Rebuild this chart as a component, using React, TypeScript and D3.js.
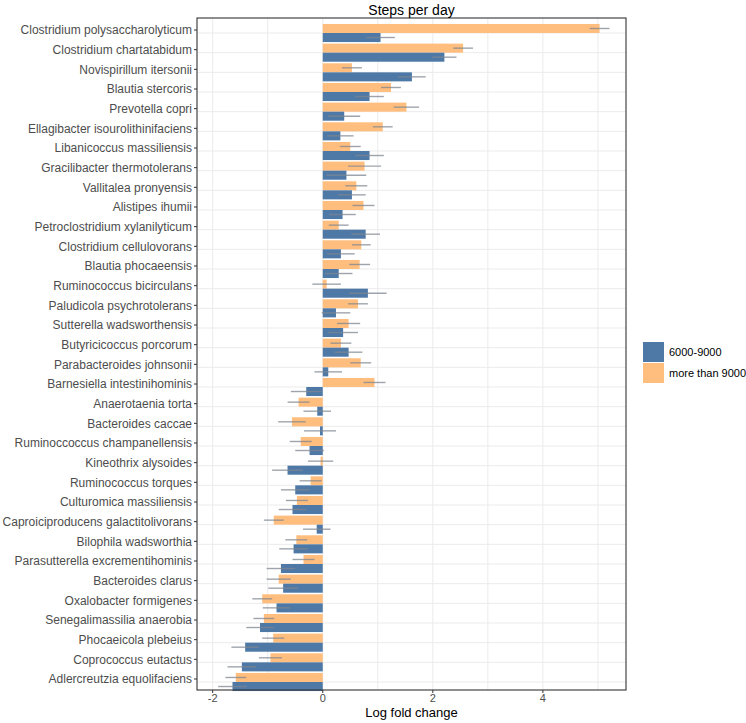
import React, { useEffect, useRef } from 'react'
import * as d3 from 'd3'

// categories, top to bottom
const taxa = [
  'Clostridium polysaccharolyticum', 'Clostridium chartatabidum', 'Novispirillum itersonii',
  'Blautia stercoris', 'Prevotella copri', 'Ellagibacter isourolithinifaciens',
  'Libanicoccus massiliensis', 'Gracilibacter thermotolerans', 'Vallitalea pronyensis',
  'Alistipes ihumii', 'Petroclostridium xylanilyticum', 'Clostridium cellulovorans',
  'Blautia phocaeensis', 'Ruminococcus bicirculans', 'Paludicola psychrotolerans',
  'Sutterella wadsworthensis', 'Butyricicoccus porcorum', 'Parabacteroides johnsonii',
  'Barnesiella intestinihominis', 'Anaerotaenia torta', 'Bacteroides caccae',
  'Ruminoccoccus champanellensis', 'Kineothrix alysoides', 'Ruminococcus torques',
  'Culturomica massiliensis', 'Caproiciproducens galactitolivorans', 'Bilophila wadsworthia',
  'Parasutterella excrementihominis', 'Bacteroides clarus', 'Oxalobacter formigenes',
  'Senegalimassilia anaerobia', 'Phocaeicola plebeius', 'Coprococcus eutactus',
  'Adlercreutzia equolifaciens',
]

// "more than 9000" group
const highLfc = [
  5.03, 2.55, 0.53, 1.24, 1.52, 1.09, 0.5, 0.76, 0.61, 0.74, 0.29, 0.7, 0.67, 0.07, 0.64, 0.47, 0.33,
  0.69, 0.94, -0.44, -0.56, -0.4, -0.04, -0.22, -0.47, -0.89, -0.48, -0.35, -0.8, -1.1, -1.07, -0.9,
  -0.95, -1.58,
]
const highSe = [
  0.18, 0.18, 0.18, 0.18, 0.23, 0.18, 0.19, 0.3, 0.2, 0.2, 0.18, 0.17, 0.19, 0.26, 0.18, 0.21, 0.19,
  0.19, 0.2, 0.2, 0.25, 0.2, 0.23, 0.2, 0.2, 0.18, 0.2, 0.2, 0.22, 0.18, 0.19, 0.2, 0.21, 0.19,
]

// "6000-9000" group
const midLfc = [
  1.05, 2.21, 1.62, 0.85, 0.39, 0.32, 0.85, 0.43, 0.53, 0.36, 0.78, 0.33, 0.29, 0.82, 0.24, 0.37, 0.47,
  0.1, -0.3, -0.1, -0.05, -0.24, -0.64, -0.5, -0.55, -0.11, -0.53, -0.76, -0.72, -0.84, -1.14, -1.41,
  -1.47, -1.64,
]
const midSe = [
  0.26, 0.22, 0.25, 0.26, 0.29, 0.24, 0.26, 0.36, 0.25, 0.24, 0.26, 0.25, 0.25, 0.34, 0.26, 0.27, 0.25,
  0.25, 0.28, 0.25, 0.29, 0.26, 0.28, 0.26, 0.25, 0.25, 0.26, 0.26, 0.27, 0.25, 0.25, 0.25, 0.26, 0.26,
]

const groups = ['6000-9000', 'more than 9000']
const groupColors = ['#4e79a7', '#ffbe7d']
const xTicks = [-2, 0, 2, 4]

const W = 746
const H = 723
const FONT = '"Liberation Sans", Arial, sans-serif'

export default function App() {
  const svgRef = useRef<SVGSVGElement>(null)

  useEffect(() => {
    if (!svgRef.current) return
    const svg = d3.select(svgRef.current)
    svg.selectAll('*').remove()

    const left = 197, right = 626, top = 18, bottom = 690

    const x = d3.scaleLinear().domain([-2.285, 5.51]).range([left, right])
    const y = d3.scalePoint<string>().domain(taxa).range([30, 679])
    const step = y.step()
    const barH = step * 0.46
    const shift = 3 // bars sit a bit below the tick marks in the original

    // background + grid
    svg.append('rect').attr('x', left).attr('y', top).attr('width', right - left).attr('height', bottom - top).attr('fill', '#fff')

    svg.append('g').selectAll('line')
      .data(d3.range(-2, 6))
      .enter().append('line')
      .attr('x1', d => x(d)).attr('x2', d => x(d))
      .attr('y1', top).attr('y2', bottom)
      .attr('stroke', '#ebebeb').attr('stroke-width', 1)

    svg.append('g').selectAll('line')
      .data(taxa)
      .enter().append('line')
      .attr('x1', left).attr('x2', right)
      .attr('y1', d => y(d)! + shift).attr('y2', d => y(d)! + shift)
      .attr('stroke', '#ebebeb').attr('stroke-width', 1)

    const rows = taxa.map((t, i) => ({ t, i }))
    const series = [
      { lfc: highLfc, se: highSe, color: groupColors[1], off: -barH },
      { lfc: midLfc, se: midSe, color: groupColors[0], off: 0 },
    ]

    series.forEach(s => {
      svg.append('g').selectAll('rect')
        .data(rows)
        .enter().append('rect')
        .attr('x', d => Math.min(x(0), x(s.lfc[d.i])))
        .attr('width', d => Math.abs(x(s.lfc[d.i]) - x(0)))
        .attr('y', d => y(d.t)! + shift + s.off)
        .attr('height', barH)
        .attr('fill', s.color)
    })

    series.forEach(s => {
      svg.append('g').selectAll('line')
        .data(rows)
        .enter().append('line')
        .attr('x1', d => x(s.lfc[d.i] - s.se[d.i]))
        .attr('x2', d => x(s.lfc[d.i] + s.se[d.i]))
        .attr('y1', d => y(d.t)! + shift + s.off + barH / 2)
        .attr('y2', d => y(d.t)! + shift + s.off + barH / 2)
        .attr('stroke', '#7f8590').attr('stroke-opacity', 0.75).attr('stroke-width', 1.4)
    })

    svg.append('rect').attr('x', left).attr('y', top).attr('width', right - left).attr('height', bottom - top)
      .attr('fill', 'none').attr('stroke', '#333').attr('stroke-width', 1.1)

    // y axis
    const yg = svg.append('g')
    yg.selectAll('line').data(taxa).enter().append('line')
      .attr('x1', left - 3).attr('x2', left).attr('y1', d => y(d)!).attr('y2', d => y(d)!)
      .attr('stroke', '#333')
    yg.selectAll('text').data(taxa).enter().append('text')
      .attr('x', left - 5).attr('y', d => y(d)!).attr('dy', '0.35em')
      .attr('text-anchor', 'end').attr('font-family', FONT).attr('font-size', 12).attr('fill', '#4d4d4d')
      .text(d => d)

    // x axis
    const xg = svg.append('g')
    xg.selectAll('line').data(xTicks).enter().append('line')
      .attr('x1', d => x(d)).attr('x2', d => x(d)).attr('y1', bottom).attr('y2', bottom + 3)
      .attr('stroke', '#333')
    xg.selectAll('text').data(xTicks).enter().append('text')
      .attr('x', d => x(d)).attr('y', bottom + 12).attr('text-anchor', 'middle')
      .attr('font-family', FONT).attr('font-size', 11).attr('fill', '#4d4d4d')
      .text(d => (d < 0 ? '-' + Math.abs(d) : String(d)))

    svg.append('text').attr('x', (left + right) / 2).attr('y', 717).attr('text-anchor', 'middle')
      .attr('font-family', FONT).attr('font-size', 13).attr('fill', '#000').text('Log fold change')

    svg.append('text').attr('x', (left + right) / 2).attr('y', 15).attr('text-anchor', 'middle')
      .attr('font-family', FONT).attr('font-size', 14).attr('fill', '#000').text('Steps per day')

    // legend
    const lg = svg.append('g').attr('transform', 'translate(643,342)')
    groups.forEach((g, i) => {
      lg.append('rect').attr('x', 0).attr('y', i * 21).attr('width', 21).attr('height', 20)
        .attr('fill', groupColors[i])
      lg.append('text').attr('x', 26).attr('y', i * 21 + 10).attr('dy', '0.35em')
        .attr('font-family', FONT).attr('font-size', 11).attr('fill', '#000').text(g)
    })
  }, [])

  return (
    <div style={{ position: 'absolute', left: 0, top: 0 }}>
      <svg ref={svgRef} width={W} height={H} viewBox={`0 0 ${W} ${H}`} />
    </div>
  )
}
